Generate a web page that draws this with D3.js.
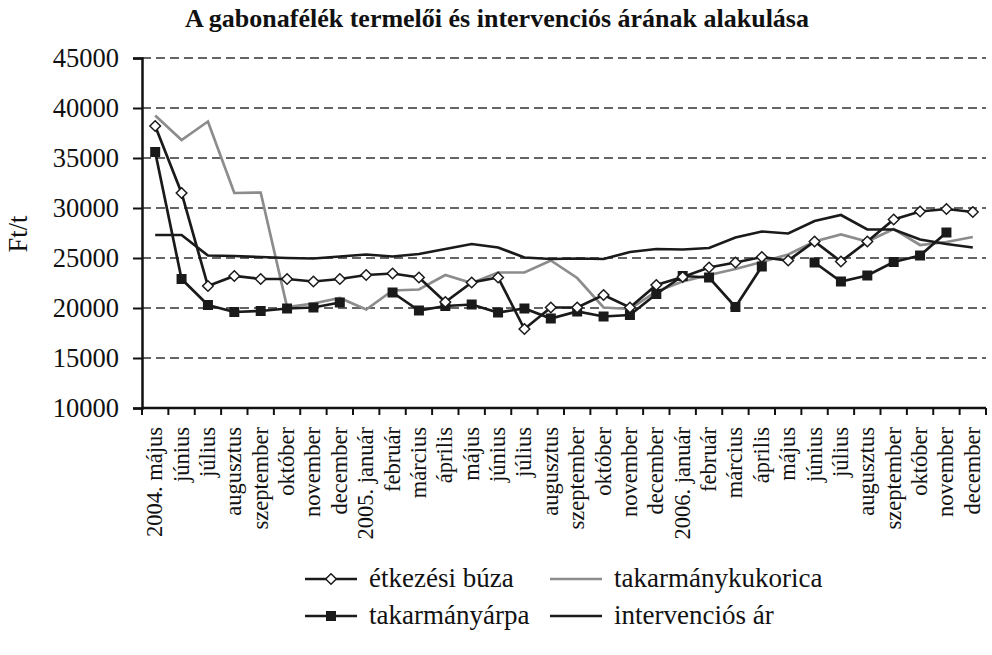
<!DOCTYPE html>
<html>
<head>
<meta charset="utf-8">
<script src="https://cdn.jsdelivr.net/npm/d3@7"></script>
<style>
  body { margin: 0; background: #fff; }
</style>
</head>
<body>
<div id="chart"></div>
<script>
// month labels, 2004 May .. 2006 December
var months = ["2004. május", "június", "július", "augusztus", "szeptember", "október", "november", "december",
  "2005. január", "február", "március", "április", "május", "június", "július", "augusztus", "szeptember",
  "október", "november", "december",
  "2006. január", "február", "március", "április", "május", "június", "július", "augusztus", "szeptember",
  "október", "november", "december"];

var buza = [38200, 31500, 22200, 23200, 22900, 22900, 22650, 22900,
  23300, 23450, 23050, 20600, 22550, 23050, 17900, 20050, 20050, 21300,
  20050, 22300, 23100, 24050, 24550, 25100, 24750, 26650, 24650, 26650,
  28850, 29650, 29900, 29600];

// null = no data (line is broken there)
var arpa = [35600, 22900, 20300, 19600, 19700, 19950, 20050, 20550,
  null, 21550, 19750, 20200, 20350, 19550, 19950, 18950, 19650, 19150,
  19300, 21400, 23200, 23050, 20100, 24150, null, 24550, 22650, 23250,
  24600, 25250, 27550, null];

var kukorica = [39250, 36800, 38650, 31500, 31550, 20100, 20450, 21000,
  19850, 21750, 21850, 23300, 22500, 23550, 23550, 24750, 23000, 20050,
  19900, 21650, 22650, 23300, 23900, 24600, 25350, 26650, 27350, 26650,
  27900, 26300, 26600, 27100];

var interv = [27300, 27300, 25250, 25200, 25100, 25000, 24950, 25150,
  25350, 25150, 25400, 25900, 26400, 26050, 25050, 24900, 24950, 24900,
  25600, 25900, 25850, 26000, 27050, 27650, 27450, 28700, 29300, 27850,
  27850, 26850, 26400, 26050];

var yTicks = [10000, 15000, 20000, 25000, 30000, 35000, 40000, 45000];

var FONT = "'Liberation Serif', 'Times New Roman', serif";
var width = 992, height = 655;
var margin = {top: 58, right: 6, bottom: 247, left: 142};
var plotW = width - margin.left - margin.right,
    plotH = height - margin.top - margin.bottom;

var svg = d3.select("#chart").append("svg")
    .attr("width", width)
    .attr("height", height)
    .style("font-family", FONT);

var g = svg.append("g")
    .attr("transform", "translate(" + margin.left + "," + margin.top + ")");

var x = d3.scaleBand().domain(d3.range(months.length)).range([0, plotW]);
var y = d3.scaleLinear().domain([10000, 45000]).range([plotH, 0]);
var cx = function(i) { return x(i) + x.bandwidth() / 2; };

// title
svg.append("text")
    .attr("x", 497).attr("y", 27)
    .attr("text-anchor", "middle")
    .style("font-family", FONT)
    .style("font-size", "26px")
    .style("font-weight", "bold")
    .style("fill", "#111")
    .text("A gabonafélék termelői és intervenciós árának alakulása");

// dashed grid
g.selectAll(".grid")
    .data(yTicks.filter(function(d) { return d > 10000; }))
    .enter().append("line")
    .attr("x1", 0).attr("x2", plotW)
    .attr("y1", function(d) { return y(d); })
    .attr("y2", function(d) { return y(d); })
    .attr("stroke", "#333")
    .attr("stroke-width", 1.4)
    .attr("stroke-dasharray", "9,5");

// y axis
var yAxis = g.append("g")
    .call(d3.axisLeft(y).tickValues(yTicks).tickSize(9).tickPadding(14).tickFormat(d3.format("d")));
yAxis.select(".domain").attr("stroke", "#111").attr("stroke-width", 2.5);
yAxis.selectAll(".tick line").attr("stroke", "#111").attr("stroke-width", 2);
yAxis.selectAll("text")
    .style("font-family", FONT)
    .style("font-size", "26.5px")
    .style("fill", "#111");

// x axis: ticks on category boundaries
g.append("line")
    .attr("x1", 0).attr("x2", plotW)
    .attr("y1", plotH).attr("y2", plotH)
    .attr("stroke", "#111").attr("stroke-width", 2.5);
g.selectAll(".xtick")
    .data(d3.range(months.length + 1))
    .enter().append("line")
    .attr("x1", function(d) { return d * x.bandwidth(); })
    .attr("x2", function(d) { return d * x.bandwidth(); })
    .attr("y1", plotH).attr("y2", plotH + 7)
    .attr("stroke", "#111").attr("stroke-width", 2);
g.selectAll(".xlabel")
    .data(months)
    .enter().append("text")
    .attr("transform", function(d, i) { return "translate(" + (cx(i) + 7) + "," + (plotH + 19) + ") rotate(-90)"; })
    .attr("text-anchor", "end")
    .style("font-family", FONT)
    .style("font-size", "22.5px")
    .style("fill", "#111")
    .text(function(d) { return d; });

// y axis title
svg.append("text")
    .attr("transform", "translate(27,234) rotate(-90)")
    .attr("text-anchor", "middle")
    .style("font-family", FONT)
    .style("font-size", "26.5px")
    .style("fill", "#111")
    .text("Ft/t");

var line = d3.line()
    .defined(function(d) { return d != null; })
    .x(function(d, i) { return cx(i); })
    .y(function(d) { return y(d); });

g.append("path").datum(kukorica)
    .attr("fill", "none").attr("stroke", "#8c8c8c").attr("stroke-width", 2.7)
    .attr("d", line);
g.append("path").datum(interv)
    .attr("fill", "none").attr("stroke", "#1a1a1a").attr("stroke-width", 2.7)
    .attr("d", line);
g.append("path").datum(arpa)
    .attr("fill", "none").attr("stroke", "#1a1a1a").attr("stroke-width", 2.7)
    .attr("d", line);
g.append("path").datum(buza)
    .attr("fill", "none").attr("stroke", "#1a1a1a").attr("stroke-width", 2.7)
    .attr("d", line);

// markers
var sq = 10;
g.selectAll(".sq")
    .data(arpa.map(function(v, i) { return {v: v, i: i}; }).filter(function(d) { return d.v != null; }))
    .enter().append("rect")
    .attr("x", function(d) { return cx(d.i) - sq / 2; })
    .attr("y", function(d) { return y(d.v) - sq / 2; })
    .attr("width", sq).attr("height", sq)
    .attr("fill", "#1a1a1a");

var diamond = d3.symbol().type(d3.symbolDiamond2).size(72);
g.selectAll(".dm")
    .data(buza)
    .enter().append("path")
    .attr("d", diamond)
    .attr("transform", function(d, i) { return "translate(" + cx(i) + "," + y(d) + ")"; })
    .attr("fill", "#fff")
    .attr("stroke", "#1a1a1a")
    .attr("stroke-width", 1.5);

// legend
var legend = [
  {name: "étkezési búza", color: "#1a1a1a", mark: "diamond", x: 305, y: 579},
  {name: "takarmánykukorica", color: "#8c8c8c", mark: null, x: 550, y: 579},
  {name: "takarmányárpa", color: "#1a1a1a", mark: "square", x: 305, y: 616},
  {name: "intervenciós ár", color: "#1a1a1a", mark: null, x: 550, y: 616}
];
var lg = svg.selectAll(".lg").data(legend).enter().append("g")
    .attr("transform", function(d) { return "translate(" + d.x + "," + d.y + ")"; });
lg.append("line")
    .attr("x1", 0).attr("x2", 52).attr("y1", 0).attr("y2", 0)
    .attr("stroke", function(d) { return d.color; })
    .attr("stroke-width", 2.7);
lg.filter(function(d) { return d.mark === "square"; })
    .append("rect")
    .attr("x", 21).attr("y", -5).attr("width", 10).attr("height", 10)
    .attr("fill", "#1a1a1a");
lg.filter(function(d) { return d.mark === "diamond"; })
    .append("path")
    .attr("d", diamond)
    .attr("transform", "translate(26,0)")
    .attr("fill", "#fff").attr("stroke", "#1a1a1a").attr("stroke-width", 1.5);
lg.append("text")
    .attr("x", 64).attr("y", 8)
    .style("font-family", FONT)
    .style("font-size", "27px")
    .style("fill", "#111")
    .text(function(d) { return d.name; });
</script>
</body>
</html>
